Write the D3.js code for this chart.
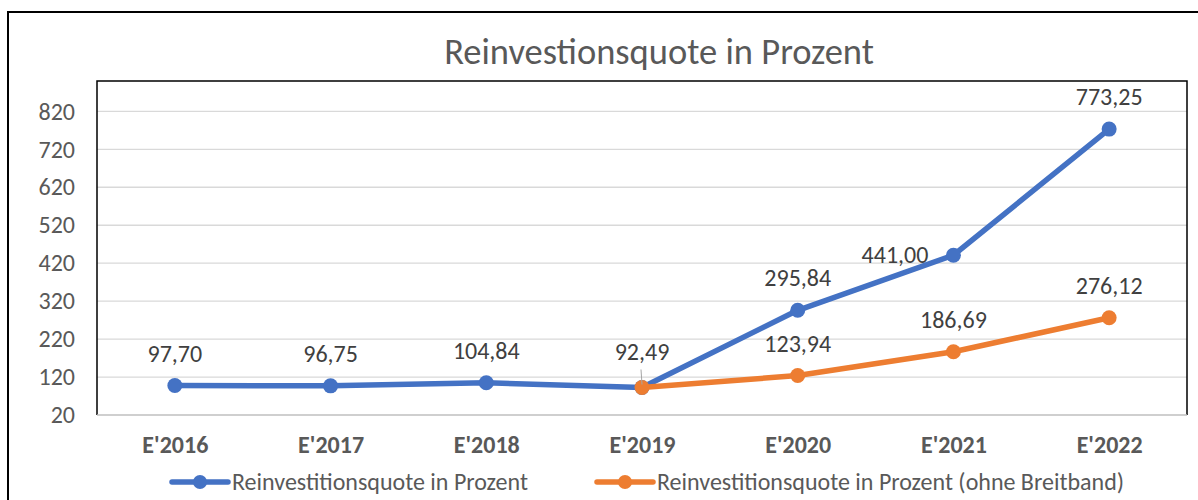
<!DOCTYPE html>
<html>
<head>
<meta charset="utf-8">
<script src="https://unpkg.com/d3@7/dist/d3.min.js"></script>
<style>
  body { margin: 0; background: #fff; }
  text { font-family: Carlito, Calibri, "Liberation Sans", Arial, sans-serif; }
</style>
</head>
<body>
<div id="chart"></div>
<script>
let w = 1198,
    h = 500

// data
let years = ["E'2016", "E'2017", "E'2018", "E'2019", "E'2020", "E'2021", "E'2022"]
let quote = [97.70, 96.75, 104.84, 92.49, 295.84, 441.00, 773.25]
let quoteOhne = [null, null, null, 92.49, 123.94, 186.69, 276.12]
let yTicks = [20, 120, 220, 320, 420, 520, 620, 720, 820]
let seriesNames = ['Reinvestitionsquote in Prozent', 'Reinvestitionsquote in Prozent (ohne Breitband)']
let colors = ['#4472c4', '#ed7d31']

let fmt = v => v.toFixed(2).replace('.', ',')
let fontFam = 'Carlito, Calibri, "Liberation Sans", Arial, sans-serif'

let plot = { left: 97, right: 1187, top: 81, bottom: 415 }

let svg = d3.select('#chart')
    .append('svg')
    .attr('width', w)
    .attr('height', h)

// outer frame
svg.append('rect')
    .attr('x', 8)
    .attr('y', 12)
    .attr('width', w + 10)
    .attr('height', h + 10)
    .attr('fill', 'none')
    .attr('stroke', '#000')
    .attr('stroke-width', 2)

let xScale = d3.scalePoint()
    .domain(years)
    .range([plot.left, plot.right])
    .padding(0.5)

let yScale = d3.scaleLinear()
    .domain([20, 900])
    .range([plot.bottom, plot.top])

// gridlines
svg.append('g')
    .selectAll('line')
    .data(yTicks.slice(1))
    .enter()
    .append('line')
    .attr('x1', plot.left)
    .attr('x2', plot.right)
    .attr('y1', d => yScale(d))
    .attr('y2', d => yScale(d))
    .attr('stroke', '#d9d9d9')
    .attr('stroke-width', 1.3)

// plot border
svg.append('path')
    .attr('d', `M${plot.left},${plot.bottom}V${plot.top}H${plot.right}V${plot.bottom}`)
    .attr('fill', 'none')
    .attr('stroke', '#000')
    .attr('stroke-width', 1.5)

svg.append('line')
    .attr('x1', plot.left)
    .attr('x2', plot.right)
    .attr('y1', plot.bottom)
    .attr('y2', plot.bottom)
    .attr('stroke', '#bfbfbf')
    .attr('stroke-width', 1.3)

// y axis
let yAxisGen = d3.axisLeft(yScale)
    .tickValues(yTicks)
    .tickSize(0)
    .tickPadding(22)
let yAxis = svg.append('g')
    .attr('transform', `translate(${plot.left},0)`)
    .call(yAxisGen)
yAxis.select('.domain').remove()
yAxis.selectAll('text')
    .attr('font-size', 24)
    .attr('fill', '#595959')
    .style('font-family', fontFam)

// x axis
let xAxisGen = d3.axisBottom(xScale)
    .tickSize(0)
let xAxis = svg.append('g')
    .attr('transform', `translate(0,${plot.bottom})`)
    .call(xAxisGen)
xAxis.select('.domain').remove()
xAxis.selectAll('text')
    .attr('y', 38)
    .attr('dy', 0)
    .attr('font-size', 24)
    .attr('font-weight', 'bold')
    .attr('fill', '#595959')
    .style('font-family', fontFam)

// title
svg.append('text')
    .text('Reinvestionsquote in Prozent')
    .attr('x', 659)
    .attr('y', 64)
    .attr('text-anchor', 'middle')
    .attr('font-size', 36.5)
    .attr('fill', '#595959')

// lines
let line = d3.line()
    .defined(d => d != null)
    .x((d, i) => xScale(years[i]))
    .y(d => yScale(d))

let series = [quote, quoteOhne]
series.forEach((ds, k) => {
    svg.append('path')
        .attr('d', line(ds))
        .attr('stroke', colors[k])
        .attr('stroke-width', 5.5)
        .attr('fill', 'none')
        .attr('stroke-linejoin', 'round')
    svg.append('g')
        .selectAll('circle')
        .data(ds.map((v, i) => ({ v, i })).filter(d => d.v != null))
        .enter()
        .append('circle')
        .attr('cx', d => xScale(years[d.i]))
        .attr('cy', d => yScale(d.v))
        .attr('r', 7.5)
        .attr('fill', colors[k])
})

// data labels
let labels = [
    { v: quote[0], i: 0 },
    { v: quote[1], i: 1 },
    { v: quote[2], i: 2 },
    { v: quote[4], i: 4 },
    { v: quote[5], i: 5, left: true },
    { v: quote[6], i: 6 },
    { v: quoteOhne[3], i: 3, lifted: true },
    { v: quoteOhne[4], i: 4 },
    { v: quoteOhne[5], i: 5 },
    { v: quoteOhne[6], i: 6 }
]
svg.append('g')
    .selectAll('text')
    .data(labels)
    .enter()
    .append('text')
    .text(d => fmt(d.v))
    .attr('x', d => d.left ? xScale(years[d.i]) - 25 : xScale(years[d.i]))
    .attr('y', d => d.left ? yScale(d.v) + 8 : yScale(d.v) - (d.lifted ? 27 : 24))
    .attr('text-anchor', d => d.left ? 'end' : 'middle')
    .attr('font-size', 24)
    .attr('fill', '#404040')

// leader line for 92,49
svg.append('line')
    .attr('x1', xScale(years[3]) - 1)
    .attr('y1', yScale(quoteOhne[3]) - 18)
    .attr('x2', xScale(years[3]))
    .attr('y2', yScale(quoteOhne[3]) - 3)
    .attr('stroke', '#a6a6a6')
    .attr('stroke-width', 1)

// legend
let legendX = [172, 597]
let legend = svg.append('g')
    .selectAll('g')
    .data(seriesNames)
    .enter()
    .append('g')
    .attr('transform', (d, i) => `translate(${legendX[i]},482)`)
legend.append('line')
    .attr('x1', 0)
    .attr('x2', 56)
    .attr('stroke', (d, i) => colors[i])
    .attr('stroke-width', 5.5)
    .attr('stroke-linecap', 'round')
legend.append('circle')
    .attr('cx', 28)
    .attr('r', 7)
    .attr('fill', (d, i) => colors[i])
legend.append('text')
    .text(d => d)
    .attr('x', 60)
    .attr('y', 8)
    .attr('font-size', 24)
    .attr('fill', '#595959')
</script>
</body>
</html>
